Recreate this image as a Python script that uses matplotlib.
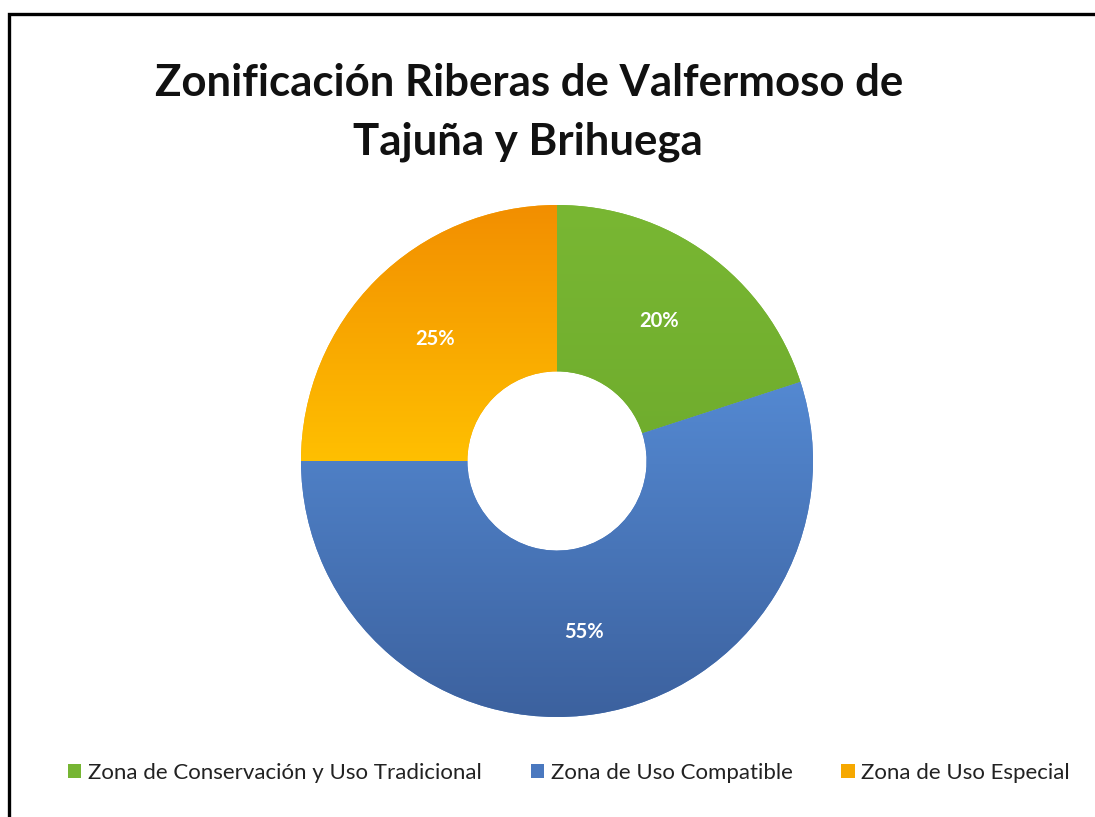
import matplotlib
matplotlib.use("Agg")
import matplotlib.pyplot as plt
import numpy as np
from matplotlib.colors import LinearSegmentedColormap
from matplotlib.patches import Rectangle

# ---- data ----
categories = ["Zona de Conservación y Uso Tradicional",
              "Zona de Uso Compatible",
              "Zona de Uso Especial"]
values = [20, 55, 25]
title_lines = ["Zonificación Riberas de Valfermoso de", "Tajuña y Brihuega"]

# ---- styles ----
legend_colors = ["#76b533", "#4a78bf", "#f6a800"]
top_colors = ["#79b733", "#5489d2", "#f28e00"]
bottom_colors = ["#6fac2d", "#3c619e", "#ffc000"]

plt.rcParams['font.family'] = ['Lato', 'DejaVu Sans']

W, H = 1095, 817
fig = plt.figure(figsize=(W / 100, H / 100), dpi=100)
fig.patch.set_facecolor("white")

cx, cy, R = 557, 461, 256
ax = fig.add_axes([(cx - R) / W, (H - cy - R) / H, 2 * R / W, 2 * R / H])

wedges, texts, autotexts = ax.pie(
    values, startangle=90, counterclock=False, colors=legend_colors,
    radius=1, autopct="%1.0f%%", pctdistance=0.675,
    wedgeprops=dict(width=0.65, edgecolor="none", linewidth=0),
    textprops=dict(color="white", fontsize=14.5, fontweight="bold"))

# vertical gradient fill for each slice, clipped to the slice
for w, ct, cb in zip(wedges, top_colors, bottom_colors):
    verts = w.get_path().vertices
    x0, x1 = np.clip(verts[:, 0].min(), -1, 1), np.clip(verts[:, 0].max(), -1, 1)
    y0, y1 = np.clip(verts[:, 1].min(), -1, 1), np.clip(verts[:, 1].max(), -1, 1)
    cmap = LinearSegmentedColormap.from_list("g", [cb, ct])
    grad = np.linspace(0, 1, 256).reshape(-1, 1)
    im = ax.imshow(grad, cmap=cmap, origin="lower", aspect="auto",
                   extent=[x0 - 0.01, x1 + 0.01, y0 - 0.01, y1 + 0.01],
                   zorder=w.get_zorder() + 0.1, interpolation="bilinear")
    im.set_clip_path(w)

for t in autotexts:
    t.set_zorder(10)

ax.set_xlim(-1.0, 1.0)
ax.set_ylim(-1.0, 1.0)
ax.set_aspect("equal")
ax.axis("off")

# title
fig.text(529 / W, 1 - 96 / H, title_lines[0], ha="center", va="baseline",
         fontsize=31.5, fontweight="bold", color="#111111")
fig.text(528 / W, 1 - 154 / H, title_lines[1], ha="center", va="baseline",
         fontsize=31.5, fontweight="bold", color="#111111")

# legend
leg = fig.legend(wedges, categories, loc="center", ncol=3,
                 bbox_to_anchor=(569 / W, 1 - 773 / H),
                 frameon=False, fontsize=16,
                 handlelength=0.6, handleheight=0.6,
                 handletextpad=0.3, columnspacing=2.2)
for t in leg.get_texts():
    t.set_color("#222222")

# outer border
fig.add_artist(Rectangle((9 / W, -0.05), 1.1, 1 - 14 / H + 0.05,
                         transform=fig.transFigure, fill=False,
                         edgecolor="black", linewidth=2.4, clip_on=False))

fig.savefig("out.png", dpi=100, facecolor="white")
